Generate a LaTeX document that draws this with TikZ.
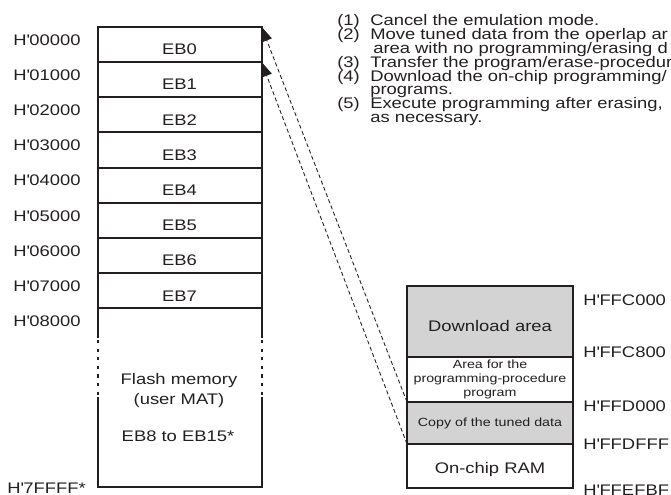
\documentclass[tikz,border=0pt]{standalone}
\usepackage{fontspec}
\setmainfont{Liberation Sans}[FakeStretch=1.2]
\usetikzlibrary{arrows.meta,calc}
\definecolor{inkdark}{RGB}{35,31,32}
\definecolor{areagray}{RGB}{211,211,211}
\newcommand{\hx}{H\textquotesingle}

\begin{document}
\begin{tikzpicture}[x=0.75pt,y=-0.75pt,
  every node/.style={text=inkdark,font=\fontsize{11.5}{13}\selectfont},
  blockline/.style={draw=inkdark,line width=1.5pt},
  block/.style={blockline,inner sep=0pt,outer sep=0pt},
  ebrow/.style={block,minimum width=123pt,minimum height=26.4pt,text height=15.5pt,text depth=0pt},
  ramrow/.style={block,minimum width=124.5pt},
  smalltext/.style={font=\fontsize{8.9}{10.6}\selectfont,align=center},
  addr/.style={anchor=base west,inner sep=0pt},
  copyline/.style={draw=inkdark,line width=0.65pt,dash pattern=on 3pt off 2pt,-{Triangle[length=11pt,width=8pt]}}]
\useasboundingbox (0,0) rectangle (671,494);
\clip (0,0) rectangle (671,494);

% user MAT, erase blocks EB0..EB7
\foreach \i in {0,...,7} {
  \node[ebrow] (eb\i) at (179.5,{44.3+35.2*\i}) {EB\i};
}
\foreach \i/\addrval in {0/00000,1/01000,2/02000,3/03000,4/04000,5/05000,6/06000,7/07000,8/08000} {
  \node[addr] (ua\i) at (13,{45+35.2*\i}) {\hx\addrval};
}
\node[addr] (uaend) at (7,493.5) {\hx 7FFFF*};

% remaining flash area with broken sides
\coordinate (fsw) at (97.5,487);
\coordinate (fse) at (261.5,487);
\draw[blockline] (eb7.south west) -- ++(0,30) (eb7.south east) -- ++(0,30);
\draw[blockline,dash pattern=on 2.3pt off 4.1pt] ($(eb7.south west)+(0,32)$) -- ++(0,56)
  ($(eb7.south east)+(0,32)$) -- ++(0,56);
\draw[blockline] ($(fsw)+(0,-90)$) -- (fsw) -- (fse) -- ++(0,-90);
\node[anchor=base] (flashname) at (179,384) {Flash memory};
\node[anchor=base] (flashmat) at (179,404.5) {(user MAT)};
\node[anchor=base] (flashrange) at (178,441) {EB8 to EB15*};

% on-chip RAM
\node[ramrow,fill=areagray,minimum height=53.25pt,text height=15pt,text depth=0pt] (dl) at (490,321.5) {Download area};
\node[ramrow,smalltext,minimum height=33.75pt] (prog) at (490,379.5) {Area for the\\programming-procedure\\program};
\node[ramrow,fill=areagray,font=\fontsize{8.9}{10.6}\selectfont,minimum height=31.5pt] (copy) at (490,423) {Copy of the tuned data};
\node[ramrow,minimum height=33pt,text height=11.5pt,text depth=0pt] (ram) at (490,466) {On-chip RAM};
\foreach \y/\addrval [count=\k] in {305/FFC000,357.3/FFC800,411.7/FFD000,449/FFDFFF,495/FFEFBF} {
  \node[addr] (ra\k) at (583,\y) {\hx\addrval};
}

\draw[copyline] (copy.north west) -- (eb0.north east);
\draw[copyline] (copy.south west) -- (eb1.north east);

% procedure notes
\foreach \y/\n in {25.7/1,39.5/2,67.3/3,81.2/4,108.6/5} {
  \node[addr] (num\n) at (337,\y) {(\n)};
}
\foreach \y/\x/\txt [count=\k] in {25.7/370/{Cancel the emulation mode.},
    39.5/370/{Move tuned data from the operlap ar},
    53.2/373/{area with no programming/erasing d},
    67.3/370/{Transfer the program/erase-procedur},
    81.2/370/{Download the on-chip programming/},
    94.8/370/{programs.},
    108.6/370/{Execute programming after erasing,},
    122.2/370/{as necessary.}} {
  \node[addr] (note\k) at (\x,\y) {\txt};
}
\end{tikzpicture}
\end{document}
